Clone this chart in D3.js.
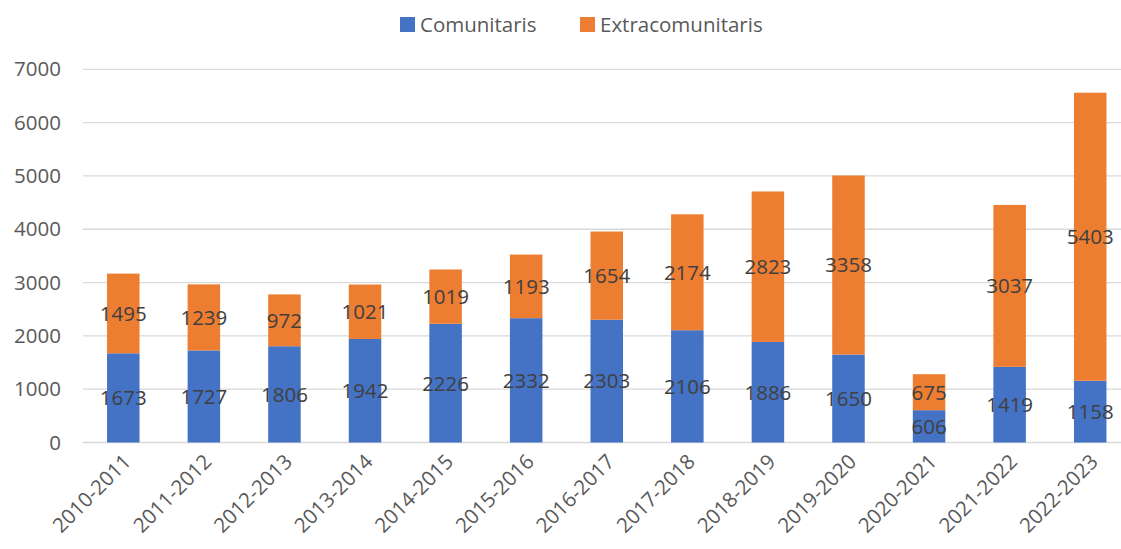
<!DOCTYPE html>
<html><head><meta charset="utf-8">
<script src="https://cdn.jsdelivr.net/npm/d3@7/dist/d3.min.js"></script>
<style>body{margin:0;background:#fff;} svg{display:block;font-family:"Open Sans",sans-serif;}</style>
</head><body>
<svg id="c" width="1121" height="549"></svg>
<script>
const categories = ["2010-2011","2011-2012","2012-2013","2013-2014","2014-2015","2015-2016","2016-2017","2017-2018","2018-2019","2019-2020","2020-2021","2021-2022","2022-2023"];
const comunitaris = [1673,1727,1806,1942,2226,2332,2303,2106,1886,1650,606,1419,1158];
const extracomunitaris = [1495,1239,972,1021,1019,1193,1654,2174,2823,3358,675,3037,5403];
const seriesNames = ["Comunitaris","Extracomunitaris"];
const seriesColors = ["#4472C4","#ED7D31"];
const yTicks = [0,1000,2000,3000,4000,5000,6000,7000];

const svg = d3.select("#c");
const x = d3.scaleBand().domain(categories).range([83, 1130.5]).paddingInner(0.6).paddingOuter(0.3);
const y = d3.scaleLinear().domain([0,7000]).range([442.5, 69.3]);

// gridlines
svg.append("g").selectAll("line").data(yTicks).join("line")
  .attr("x1", 83).attr("x2", 1121)
  .attr("y1", d => y(d)).attr("y2", d => y(d))
  .attr("stroke", "#D9D9D9").attr("stroke-width", 1.3);

// y axis labels
const yAxis = d3.axisLeft(y).tickValues(yTicks).tickSize(0).tickPadding(0).tickFormat(d3.format("d"));
const yg = svg.append("g").attr("transform","translate(61,0)").call(yAxis);
yg.select(".domain").remove();
yg.selectAll("text").attr("font-size", 20.5).attr("fill","#595959").attr("font-family","Open Sans");

const data = categories.map((c,i)=>({c, a: comunitaris[i], b: extracomunitaris[i]}));
const bw = 32.5;
const cx = d => x(d.c) + x.bandwidth()/2;

const g = svg.append("g");
g.selectAll("rect.a").data(data).join("rect").attr("class","a")
  .attr("x", d => cx(d) - bw/2).attr("width", bw)
  .attr("y", d => y(d.a)).attr("height", d => y(0) - y(d.a))
  .attr("fill", seriesColors[0]);
g.selectAll("rect.b").data(data).join("rect").attr("class","b")
  .attr("x", d => cx(d) - bw/2).attr("width", bw)
  .attr("y", d => y(d.a + d.b)).attr("height", d => y(d.a) - y(d.a + d.b))
  .attr("fill", seriesColors[1]);

// value labels
g.selectAll("text.la").data(data).join("text").attr("class","la")
  .attr("x", cx).attr("y", d => y(d.a/2)).attr("dy","0.36em")
  .attr("text-anchor","middle").attr("font-size",20.5).attr("fill","#404040")
  .text(d => d.a);
g.selectAll("text.lb").data(data).join("text").attr("class","lb")
  .attr("x", cx).attr("y", d => y(d.a + d.b/2)).attr("dy","0.36em")
  .attr("text-anchor","middle").attr("font-size",20.5).attr("fill","#404040")
  .text(d => d.b);

// x labels
svg.append("g").selectAll("text").data(categories).join("text")
  .attr("transform", c => `translate(${x(c)+x.bandwidth()/2+9},${463}) rotate(-45)`)
  .attr("text-anchor","end").attr("font-size",20.5).attr("fill","#595959")
  .text(c => c);

// legend
const leg = svg.append("g");
const legX = [400, 580];
seriesNames.forEach((n,i)=>{
  leg.append("rect").attr("x", legX[i]).attr("y", 17).attr("width", 15).attr("height", 15).attr("fill", seriesColors[i]);
  leg.append("text").attr("x", legX[i]+20).attr("y", 31.5).attr("font-size", 20.5).attr("fill","#595959").text(n);
});
</script>
</body></html>
